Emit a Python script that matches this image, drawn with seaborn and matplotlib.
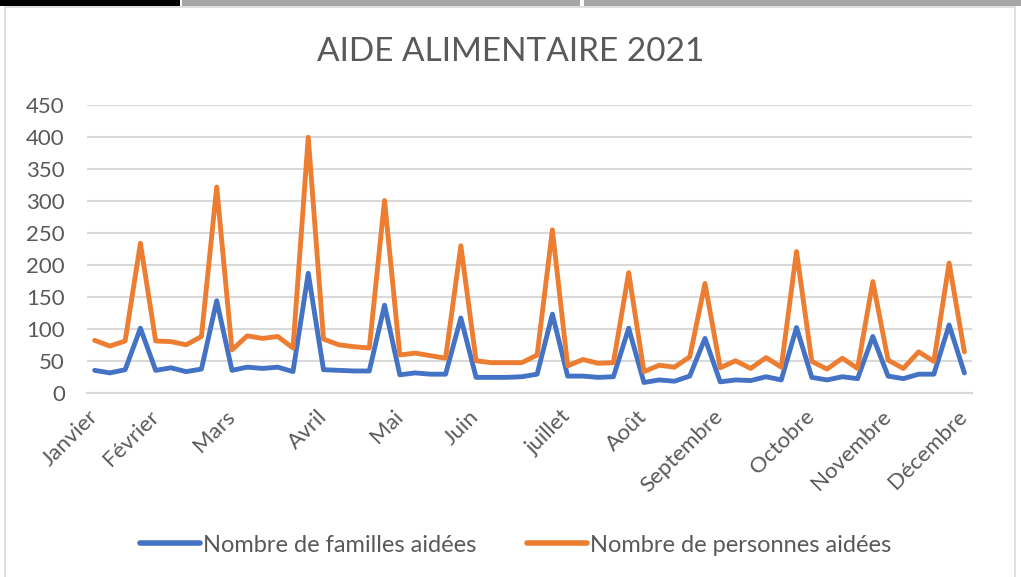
import numpy as np
import pandas as pd
import matplotlib
matplotlib.use("Agg")
import matplotlib.pyplot as plt
import seaborn as sns
from matplotlib.patches import Rectangle

# ---- data ----
familles = [35, 31, 36, 101, 35, 39, 33, 37, 144, 35, 40, 38, 40, 33, 187,
            36, 35, 34, 34, 137, 28, 31, 29, 29, 117, 24, 24, 24, 25, 29, 123,
            26, 26, 24, 25, 101, 16, 20, 18, 26, 85, 17, 20, 19, 25, 20, 102,
            24, 20, 25, 22, 88, 26, 22, 29, 29, 106, 31]
personnes = [82, 73, 81, 234, 81, 80, 75, 88, 322, 67, 89, 85, 88, 70, 400,
             84, 75, 72, 70, 301, 59, 62, 58, 54, 230, 50, 47, 47, 47, 59, 255,
             42, 52, 46, 47, 188, 33, 43, 40, 56, 171, 39, 50, 38, 55, 40, 221,
             49, 37, 54, 38, 174, 51, 38, 64, 49, 203, 64]
mois = ["Janvier", "Février", "Mars", "Avril", "Mai", "Juin", "juillet",
        "Août", "Septembre", "Octobre", "Novembre", "Décembre"]
mois_pos = [0, 4, 9, 15, 20, 25, 31, 36, 41, 47, 52, 57]
series = ["Nombre de familles aidées", "Nombre de personnes aidées"]
yticks = [0, 50, 100, 150, 200, 250, 300, 350, 400, 450]

n = len(familles)
df = pd.DataFrame({
    "idx": list(range(n)) * 2,
    "valeur": familles + personnes,
    "serie": [series[0]] * n + [series[1]] * n,
})

sns.set_theme(style="white")
plt.rcParams['font.family'] = ['Lato', 'DejaVu Sans']

fig = plt.figure(figsize=(10.21, 5.77), dpi=100)
W, H = 1021, 577

# screenshot frame decorations
fig.patches.append(Rectangle((0, 1 - 6 / H), 180 / W, 6 / H, transform=fig.transFigure,
                             facecolor="black", edgecolor="none", zorder=0))
fig.patches.append(Rectangle((182 / W, 1 - 6 / H), (580 - 182) / W, 6 / H, transform=fig.transFigure,
                             facecolor="#a6a6a6", edgecolor="none", zorder=0))
fig.patches.append(Rectangle((584 / W, 1 - 6 / H), (W - 584) / W, 6 / H, transform=fig.transFigure,
                             facecolor="#a6a6a6", edgecolor="none", zorder=0))
fig.patches.append(Rectangle((5 / W, -0.01), (1015 - 5) / W, 1 - 7 / H + 0.01, transform=fig.transFigure,
                             facecolor="none", edgecolor="#d9d9d9", linewidth=1.2, zorder=0))

ax = fig.add_axes([87 / W, 1 - 392.7 / H, (972 - 87) / W, (392.7 - 105.3) / H])

sns.lineplot(data=df, x="idx", y="valeur", hue="serie", hue_order=series,
             palette=["#4472C4", "#ED7D31"], linewidth=3.5, ax=ax,
             legend=True)

ax.set_xlim(-0.5, n - 0.5)
ax.set_ylim(0, 450)
ax.set_yticks(yticks)
ax.set_yticklabels([str(v) for v in yticks], fontsize=16, color="#595959")
ax.set_xticks(mois_pos)
ax.set_xticklabels(mois, rotation=45, ha="right", va="center", rotation_mode="anchor",
                   fontsize=16, color="#595959")
ax.tick_params(axis="x", length=0, pad=15)
ax.tick_params(axis="y", length=0, pad=16)
ax.set_xlabel("")
ax.set_ylabel("")
ax.grid(axis="y", color="#d9d9d9", linewidth=1.5)
ax.set_axisbelow(True)
for s in ["top", "right", "left"]:
    ax.spines[s].set_visible(False)
ax.spines["bottom"].set_color("#d9d9d9")
ax.spines["bottom"].set_linewidth(1.5)

fig.text(0.5, 1 - 52 / H, "AIDE ALIMENTAIRE 2021", ha="center", va="center",
         fontsize=24, color="#595959")

handles, labels = ax.get_legend_handles_labels()
for h in handles:
    h.set_linewidth(4)
ax.legend(handles, labels, loc="center", bbox_to_anchor=(0.505, 1 - 545 / H),
          bbox_transform=fig.transFigure, ncol=2, frameon=False,
          fontsize=17, handlelength=2.55, handletextpad=0.12, columnspacing=2.15,
          labelcolor="#595959")

fig.savefig("out.png", dpi=100)
